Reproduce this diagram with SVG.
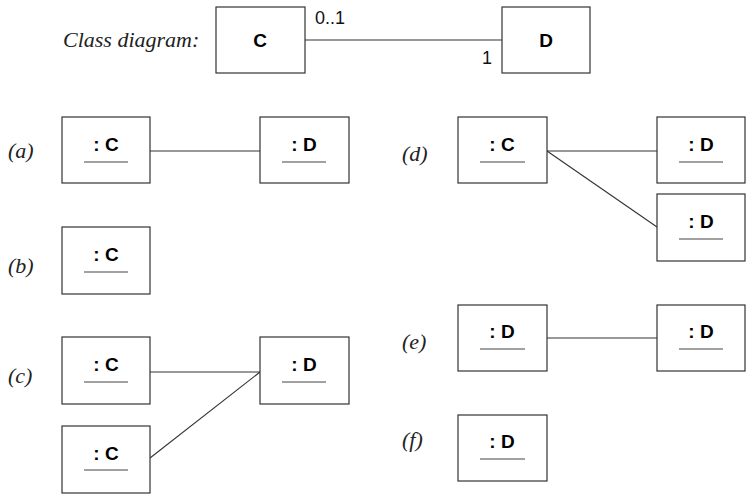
<svg xmlns="http://www.w3.org/2000/svg" width="749" height="496" viewBox="0 0 749 496">
<style>
.box{fill:#fff;stroke:#333;stroke-width:1.2}
.ln{stroke:#333;stroke-width:1.1;fill:none}
.ul{stroke:#444;stroke-width:1.1}
.lbl{font-family:"Liberation Sans",Arial,sans-serif;font-weight:bold;font-size:19px;text-anchor:middle;fill:#000}
.cap{font-family:"Liberation Serif","Times New Roman",serif;font-style:italic;font-size:22px;fill:#222}
.mult{font-family:"Liberation Sans",Arial,sans-serif;font-size:18px;fill:#111}
</style>
<rect width="749" height="496" fill="#fff"/>
<text class="cap" x="63" y="47">Class diagram:</text>
<text class="cap" x="8" y="158">(a)</text>
<text class="cap" x="8" y="273">(b)</text>
<text class="cap" x="8" y="383">(c)</text>
<text class="cap" x="402" y="161">(d)</text>
<text class="cap" x="402" y="349">(e)</text>
<text class="cap" x="402" y="447">(f)</text>
<g id="connectors">
<line class="ln" x1="305" y1="40" x2="502" y2="40"/>
<text class="mult" x="315" y="24">0..1</text>
<text class="mult" x="482" y="64">1</text>
<line class="ln" x1="150" y1="151" x2="260" y2="151"/>
<line class="ln" x1="150" y1="372" x2="260" y2="372"/>
<line class="ln" x1="150" y1="458" x2="260" y2="372"/>
<line class="ln" x1="547" y1="151" x2="657" y2="151"/>
<line class="ln" x1="547" y1="151" x2="657" y2="227"/>
<line class="ln" x1="547" y1="338" x2="657" y2="338"/>
</g>
<g id="classC"><rect class="box" x="216" y="7" width="89" height="66"/><text class="lbl" x="260" y="47" font-size="20">C</text></g>
<g id="classD"><rect class="box" x="502" y="7" width="88" height="66"/><text class="lbl" x="546" y="47" font-size="20">D</text></g>
<g id="a_C"><rect class="box" x="62" y="117" width="88" height="66"/><text class="lbl" x="106" y="151">: C</text><line class="ul" x1="84" y1="162" x2="128" y2="162"/></g>
<g id="a_D"><rect class="box" x="260" y="117" width="89" height="66"/><text class="lbl" x="304" y="151">: D</text><line class="ul" x1="282" y1="162" x2="326" y2="162"/></g>
<g id="b_C"><rect class="box" x="62" y="227" width="88" height="67"/><text class="lbl" x="106" y="261">: C</text><line class="ul" x1="84" y1="272" x2="128" y2="272"/></g>
<g id="c_C1"><rect class="box" x="62" y="337" width="88" height="67"/><text class="lbl" x="106" y="371">: C</text><line class="ul" x1="84" y1="382" x2="128" y2="382"/></g>
<g id="c_C2"><rect class="box" x="62" y="426" width="88" height="67"/><text class="lbl" x="106" y="460">: C</text><line class="ul" x1="84" y1="470" x2="128" y2="470"/></g>
<g id="c_D"><rect class="box" x="260" y="337" width="89" height="67"/><text class="lbl" x="304" y="371">: D</text><line class="ul" x1="282" y1="382" x2="326" y2="382"/></g>
<g id="d_C"><rect class="box" x="458" y="117" width="89" height="66"/><text class="lbl" x="502" y="151">: C</text><line class="ul" x1="480" y1="162" x2="525" y2="162"/></g>
<g id="d_D1"><rect class="box" x="657" y="117" width="88" height="66"/><text class="lbl" x="701" y="151">: D</text><line class="ul" x1="679" y1="162" x2="723" y2="162"/></g>
<g id="d_D2"><rect class="box" x="657" y="194" width="88" height="67"/><text class="lbl" x="701" y="228">: D</text><line class="ul" x1="679" y1="239" x2="723" y2="239"/></g>
<g id="e_D1"><rect class="box" x="458" y="305" width="89" height="66"/><text class="lbl" x="502" y="338">: D</text><line class="ul" x1="480" y1="349" x2="525" y2="349"/></g>
<g id="e_D2"><rect class="box" x="657" y="305" width="88" height="66"/><text class="lbl" x="701" y="338">: D</text><line class="ul" x1="679" y1="349" x2="723" y2="349"/></g>
<g id="f_D"><rect class="box" x="458" y="415" width="89" height="66"/><text class="lbl" x="502" y="448">: D</text><line class="ul" x1="480" y1="459" x2="525" y2="459"/></g>
</svg>
